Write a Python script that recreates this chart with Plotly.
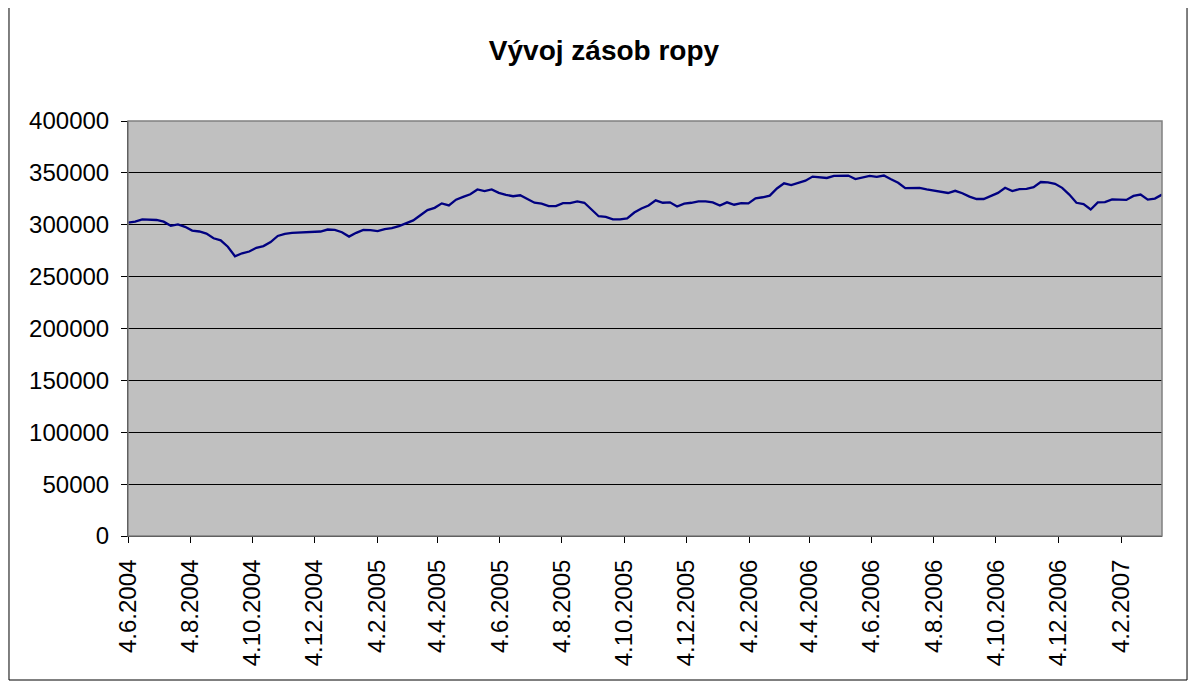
import pandas as pd
import plotly.graph_objects as go

# weekly oil stocks, every Friday from 4.6.2004
start_date = "2004-06-04"
stocks = [
    302000, 303000, 305200, 305000, 304600, 303000, 299000, 300300, 298000, 294400,
    293500, 291500, 287000, 285000, 278800, 269600, 272500, 274200, 277800, 279400,
    283300, 289200, 291200, 292200, 292500, 292800, 293500, 293500, 295400, 295000,
    292800, 288600, 292200, 295100, 294800, 293800, 295800, 296700, 298700, 301300,
    304200, 309200, 314100, 316300, 320600, 318600, 324200, 326800, 329400, 334000,
    332400, 334000, 330700, 328800, 327500, 328400, 325200, 321200, 320300, 318000,
    318000, 320900, 320900, 322500, 321200, 314700, 308200, 307500, 305200, 305200,
    306200, 311800, 315700, 318600, 323500, 321200, 321600, 317600, 320300, 321200,
    322500, 322500, 321600, 318600, 321600, 319300, 320900, 320600, 325500, 326500,
    328100, 335000, 339900, 338300, 340300, 342500, 346400, 345400, 345100, 347100,
    347400, 347400, 344100, 345800, 347100, 346100, 347400, 343800, 340500, 335300,
    335600, 335600, 334000, 333000, 331700, 330600, 332700, 330400, 327100, 324800,
    324800, 328100, 330700, 335600, 332400, 334300, 334600, 336300, 341200, 340800,
    339500, 335600, 329100, 321200, 319900, 314700, 321600, 321900, 324500, 324200,
    323900, 327800, 329100, 324200, 325200, 329100,
]
dates = pd.date_range(start_date, periods=len(stocks), freq="7D")

tick_dates = ["2004-06-04", "2004-08-04", "2004-10-04", "2004-12-04", "2005-02-04",
              "2005-04-04", "2005-06-04", "2005-08-04", "2005-10-04", "2005-12-04",
              "2006-02-04", "2006-04-04", "2006-06-04", "2006-08-04", "2006-10-04",
              "2006-12-04", "2007-02-04"]
tick_labels = ["4.6.2004", "4.8.2004", "4.10.2004", "4.12.2004", "4.2.2005",
               "4.4.2005", "4.6.2005", "4.8.2005", "4.10.2005", "4.12.2005",
               "4.2.2006", "4.4.2006", "4.6.2006", "4.8.2006", "4.10.2006",
               "4.12.2006", "4.2.2007"]

font = "Arial, Liberation Sans, sans-serif"

fig = go.Figure()
fig.add_trace(go.Scatter(x=dates, y=stocks, mode="lines",
                         line=dict(color="#000080", width=2.3)))

# page body has an 8px margin, so the figure is 8px smaller and margins shifted
fig.update_layout(
    width=1189, height=679,
    margin=dict(l=120, r=35, t=113, b=151),
    paper_bgcolor="white", plot_bgcolor="#C0C0C0",
    showlegend=False,
    font=dict(family=font, color="black", size=24),
    title=dict(text="<b>Vývoj zásob ropy</b>", x=(604 - 8) / 1189, xanchor="center",
               y=1 - 42 / 679, yanchor="middle",
               font=dict(family=font, size=28, color="black")),
    xaxis=dict(type="date", range=[dates[0], dates[-1]],
               tickvals=tick_dates, ticktext=tick_labels, tickangle=-90,
               ticks="outside", ticklen=6, tickcolor="black",
               ticklabelstandoff=7,
               showgrid=False, zeroline=False,
               showline=True, linecolor="black", linewidth=1),
    yaxis=dict(range=[0, 400000], dtick=50000, tickformat="d",
               ticks="outside", ticklen=6, tickcolor="black",
               ticklabelstandoff=7,
               showgrid=True, gridcolor="black", gridwidth=1,
               zeroline=False, showline=True, linecolor="black", linewidth=1),
    shapes=[
        dict(type="rect", xref="paper", yref="paper", x0=0, x1=1, y0=0, y1=1,
             line=dict(color="#808080", width=1.5), layer="above"),
        dict(type="rect", xref="paper", yref="paper",
             x0=-0.1151, x1=1.0242, y0=-0.347, y1=1.2747,
             line=dict(color="black", width=1)),
    ],
)

fig.write_html("out.html")
